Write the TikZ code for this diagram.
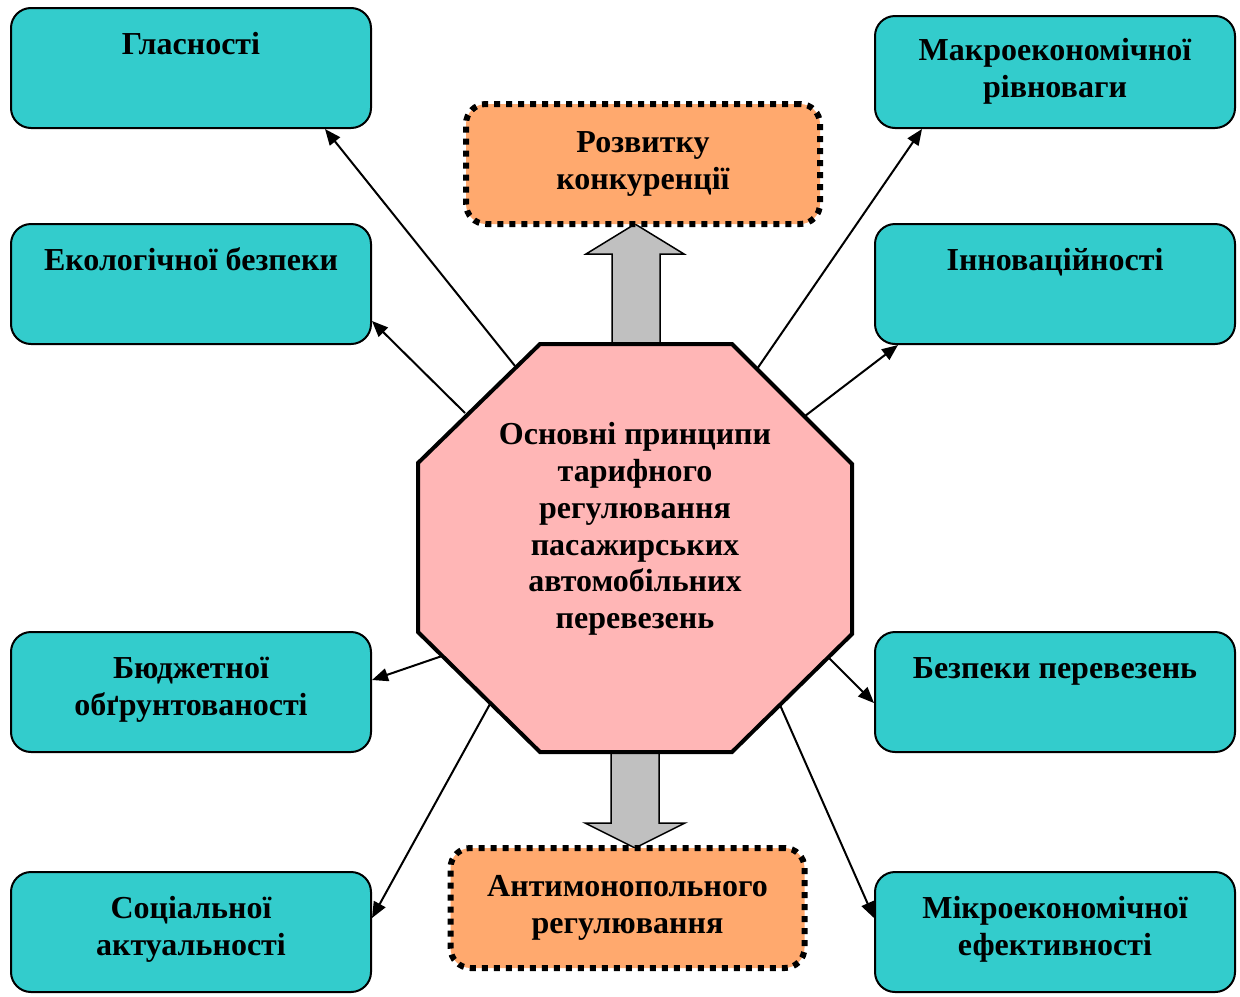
\documentclass[tikz,border=0pt]{standalone}
\usepackage{fontspec}
\setmainfont{Liberation Serif}
\usetikzlibrary{arrows.meta,calc}
\definecolor{boxteal}{HTML}{33CCCC}
\definecolor{boxorange}{HTML}{FFA96E}
\definecolor{octpink}{HTML}{FFB6B6}
\definecolor{blockgray}{HTML}{C0C0C0}
\tikzset{
  tbox/.style={draw, line width=1pt, fill=boxteal, rounded corners=10pt,
    minimum width=180pt, minimum height=60pt, inner sep=0pt},
  ttext/.style={font=\bfseries\fontsize{16}{18.5}\selectfont, align=center,
    anchor=north, inner sep=0pt, text height=11pt},
  ttexttwo/.style={ttext, text height=29.5pt},
  obox/.style={fill=boxorange, draw=black, line width=3pt, dash pattern=on 3pt off 3pt,
    rounded corners=10pt, minimum width=177pt, minimum height=60pt, inner sep=0pt,
    font=\bfseries\fontsize{16}{18.5}\selectfont, align=center},
  link/.style={line width=1pt, -{Triangle[length=8pt,width=6.5pt]}},
  blockarrow/.style={draw=black, line width=0.75pt, fill=blockgray},
}
\begin{document}
\begin{tikzpicture}[x=0.5pt,y=-0.5pt]
\useasboundingbox (0,0) rectangle (1240,996);

% octagon corners
\coordinate (c1) at (540,344);
\coordinate (c2) at (732,344);
\coordinate (c3) at (852,464);
\coordinate (c4) at (852,634);
\coordinate (c5) at (732,752);
\coordinate (c6) at (540,752);
\coordinate (c7) at (418,632);
\coordinate (c8) at (418,463);

% wide grey arrows to the two dotted boxes
\draw[blockarrow] (612,344) -- (612,254) -- (586,254) -- (635,224) -- (684,254) -- (660,254) -- (660,344) -- cycle;
\draw[blockarrow] (611,752) -- (611,823) -- (585,823) -- (635,848) -- (685,823) -- (659,823) -- (659,752) -- cycle;

% central octagon
\draw[fill=octpink, line width=2pt, line join=miter] (c1) -- (c2) -- (c3) -- (c4) -- (c5) -- (c6) -- (c7) -- (c8) -- cycle;
\node[font=\bfseries\fontsize{16}{18.4}\selectfont, align=center, inner sep=0pt] (core) at (635,529)
  {Основні принципи\\тарифного\\регулювання\\пасажирських\\автомобільних\\перевезень};

% principle boxes, left column
\node[tbox] (g) at (191,68) {};
\node[ttext] at ([yshift=-12.75pt]g.north) {Гласності};
\node[tbox] (e) at (191,284) {};
\node[ttext] at ([yshift=-12.75pt]e.north) {Екологічної безпеки};
\node[tbox] (b) at (191,692) {};
\node[ttexttwo] at ([yshift=-12.75pt]b.north) {Бюджетної\\обґрунтованості};
\node[tbox] (s) at (191,932) {};
\node[ttexttwo] at ([yshift=-12.75pt]s.north) {Соціальної\\актуальності};

% principle boxes, right column
\node[tbox, minimum height=56pt] (m) at (1055,72) {};
\node[ttexttwo] at ([yshift=-11.75pt]m.north) {Макроекономічної\\рівноваги};
\node[tbox] (i) at (1055,284) {};
\node[ttext] at ([yshift=-12.75pt]i.north) {Інноваційності};
\node[tbox] (bz) at (1055,692) {};
\node[ttext] at ([yshift=-12.75pt]bz.north) {Безпеки перевезень};
\node[tbox] (mk) at (1055,932) {};
\node[ttexttwo] at ([yshift=-12.75pt]mk.north) {Мікроекономічної\\ефективності};

% dotted boxes
\node[obox] (rk) at (643,164) {Розвитку\\конкуренції};
\node[obox] (am) at (627.5,908) {Антимонопольного\\регулювання};

% connector origins on the octagon border
\coordinate (p1) at (515,366);
\coordinate (p2) at (465,413);
\coordinate (p3) at (442,656);
\coordinate (p4) at (490,704);
\coordinate (p5) at (757,369);
\coordinate (p6) at (805,416);
\coordinate (p7) at (828,657);
\coordinate (p8) at (780,705);

\draw[link] (p1) -- ([xshift=67pt]g.south);
\draw[link] (p2) -- ([yshift=-18.5pt]e.east);
\draw[link] (p3) -- ([yshift=6pt]b.east);
\draw[link] (p4) -- ([yshift=7pt]s.east);
\draw[link] (p5) -- ([xshift=-66.5pt]m.south);
\draw[link] (p6) -- ([xshift=-78.5pt]i.south);
\draw[link] (p7) -- ([yshift=-5.5pt]bz.west);
\draw[link] (p8) -- ([yshift=7pt]mk.west);
\end{tikzpicture}
\end{document}
